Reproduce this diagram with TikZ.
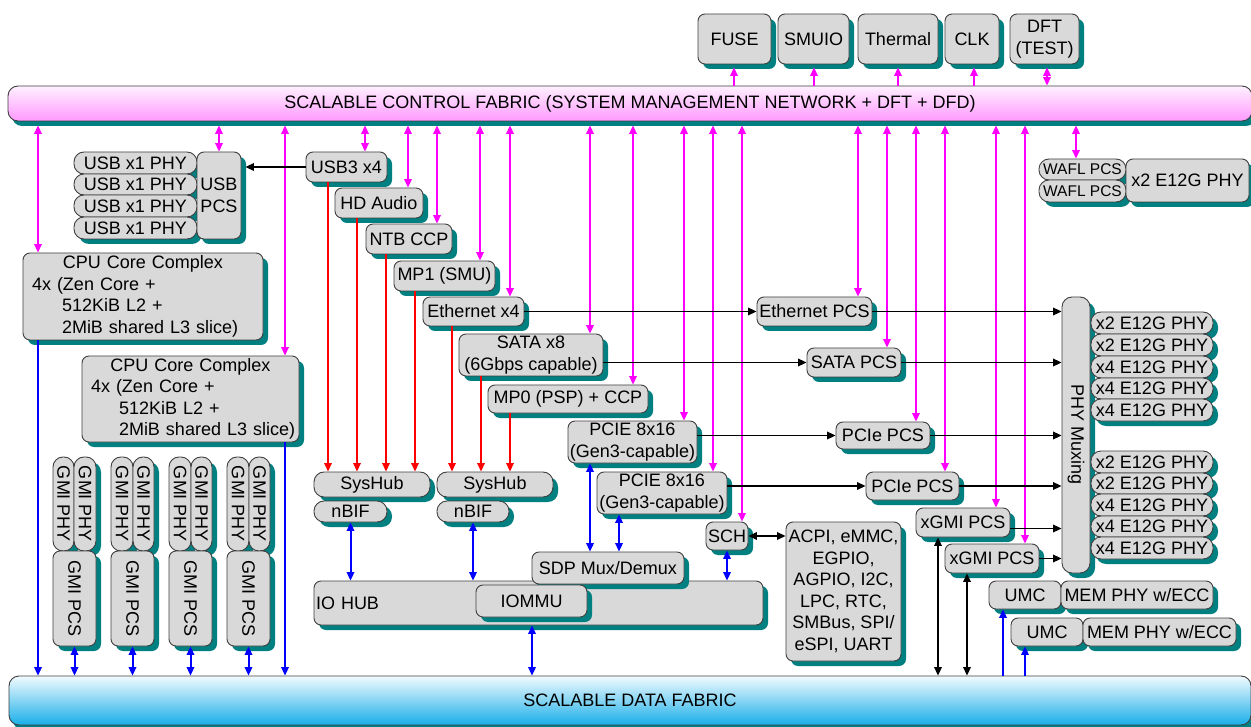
\documentclass[tikz,border=0pt]{standalone}
\usepackage{fontspec}
\setmainfont{Liberation Sans}
\usepackage{graphicx}
\usetikzlibrary{arrows.meta,shadows}
\definecolor{boxfill}{HTML}{D9D9D9}
\definecolor{boxline}{HTML}{404040}
\definecolor{shad}{HTML}{008080}
\definecolor{mag}{HTML}{FF00FF}
\definecolor{scftop}{HTML}{FFF0FF}
\definecolor{scfbot}{HTML}{FF99FF}
\definecolor{sdftop}{HTML}{F2FBFF}
\definecolor{sdfbot}{HTML}{19AEE8}
\newcommand\bx[7][]{%
  \pgfmathsetmacro\bxw{#5-#3}\pgfmathsetmacro\bxh{#6-#4}%
  \node[box,minimum width=\bxw pt,minimum height=\bxh pt,#1] (#2) at ({(#3+#5)/2},{(#4+#6)/2}) {#7};}
\begin{document}
\begin{tikzpicture}[x=1pt,y=-1pt,
  box/.style={draw=boxline, fill=boxfill, line width=0.9pt, rounded corners=7pt,
    inner sep=0pt, align=center, font=\fontsize{18}{21.5}\selectfont,
    general shadow={fill=shad, shadow xshift=5pt, shadow yshift=-5pt}},
  pill/.style={rounded corners=10pt},
  small/.style={font=\fontsize{15.5}{18}\selectfont},
  bar/.style={draw=boxline, line width=0.9pt, rounded corners=10pt, inner sep=0pt,
    font=\fontsize{18}{21.5}\selectfont,
    general shadow={fill=shad, shadow xshift=4pt, shadow yshift=-5pt}},
  >={Triangle[length=8.5pt,width=7.5pt]},
  magl/.style={draw=mag, line width=1.9pt},
  redl/.style={draw=red, line width=1.6pt},
  bluel/.style={draw=blue, line width=2pt},
  blkl/.style={draw=black, line width=1.9pt}]
\fill[white] (0,0) rectangle (1251,727);
\clip (0,0) rectangle (1251,727);

% fabrics
\node[bar, top color=scftop, bottom color=scfbot, minimum width=1244pt, minimum height=35pt]
  (scf) at (630,103.5) {SCALABLE CONTROL FABRIC (SYSTEM MANAGEMENT NETWORK + DFT + DFD)};
\node[bar, top color=sdftop, bottom color=sdfbot, minimum width=1242pt, minimum height=49pt]
  (sdf) at (630,700.5) {SCALABLE DATA FABRIC};

% top blocks
\bx{fuse}{698}{14}{771}{64}{FUSE}
\bx{smuio}{778}{14}{849}{64}{SMUIO}
\bx{thermal}{858}{14}{938}{64}{Thermal}
\bx{clk}{945}{14}{999}{64}{CLK}
\bx{dft}{1010}{14}{1079}{64}{DFT\\(TEST)}

% USB
\bx[pill]{usbp1}{74}{152}{197}{174}{USB x1 PHY}
\bx[pill]{usbp2}{74}{174}{197}{195}{USB x1 PHY}
\bx[pill]{usbp3}{74}{195}{197}{217}{USB x1 PHY}
\bx[pill]{usbp4}{74}{217}{197}{239}{USB x1 PHY}
\bx{usbpcs}{197}{152}{241}{239}{USB\\PCS}

% IO blocks
\bx{usb3}{306}{152}{387}{182}{USB3 x4}
\bx{hda}{335}{188}{423}{218}{HD Audio}
\bx{ntb}{366}{224}{452}{254}{NTB CCP}
\bx{mp1}{394}{261}{495}{291}{MP1 (SMU)}
\bx{eth}{423}{297}{524}{326}{Ethernet x4}
\bx{sata}{459}{334}{603}{376}{SATA x8\\(6Gbps capable)}
\bx{mp0}{488}{385}{648}{413}{MP0 (PSP) + CCP}
\bx{pcie1}{568}{421}{697}{463}{PCIE 8x16\\(Gen3-capable)}
\bx{pcie2}{597}{472}{727}{514}{PCIE 8x16\\(Gen3-capable)}

% PCS blocks
\bx{ethpcs}{757}{297}{872}{326}{Ethernet PCS}
\bx{satapcs}{807}{348}{901}{377}{SATA PCS}
\bx{pcs1}{836}{422}{930}{449}{PCIe PCS}
\bx{pcs2}{866}{472}{959}{500}{PCIe PCS}
\bx{xgmi1}{916}{508}{1010}{537}{xGMI PCS}
\bx{xgmi2}{945}{544}{1039}{573}{xGMI PCS}

% PHY muxing and PHYs
\bx[pill]{phymux}{1062}{297}{1090}{573}{\rotatebox{-90}{PHY Muxing}}
\bx[pill]{ep1}{1091}{312}{1213}{334}{x2 E12G PHY}
\bx[pill]{ep2}{1091}{334}{1213}{356}{x2 E12G PHY}
\bx[pill]{ep3}{1091}{356}{1213}{378}{x4 E12G PHY}
\bx[pill]{ep4}{1091}{378}{1213}{399}{x4 E12G PHY}
\bx[pill]{ep5}{1091}{399}{1213}{421}{x4 E12G PHY}
\bx[pill]{ep6}{1091}{451}{1213}{473}{x2 E12G PHY}
\bx[pill]{ep7}{1091}{473}{1213}{494}{x2 E12G PHY}
\bx[pill]{ep8}{1091}{494}{1213}{516}{x4 E12G PHY}
\bx[pill]{ep9}{1091}{516}{1213}{537}{x4 E12G PHY}
\bx[pill]{ep10}{1091}{537}{1213}{559}{x4 E12G PHY}

% WAFL
\bx[pill,small]{wafl1}{1039}{159}{1126}{180}{WAFL PCS}
\bx[pill,small]{wafl2}{1039}{180}{1126}{202}{WAFL PCS}
\bx{waflphy}{1126}{159}{1249}{202}{x2 E12G PHY}

% memory
\bx{umc1}{989}{581}{1061}{609}{UMC}
\bx{mem1}{1061}{581}{1213}{609}{MEM PHY w/ECC}
\bx{umc2}{1011}{618}{1083}{646}{UMC}
\bx{mem2}{1083}{618}{1236}{646}{MEM PHY w/ECC}

% SCH / ACPI
\bx{sch}{706}{522}{748}{550}{SCH}
\bx{acpi}{786}{522}{901}{661}{ACPI, eMMC,\\EGPIO,\\AGPIO, I2C,\\LPC, RTC,\\SMBus, SPI/\\eSPI, UART}

% IO hub
\bx[align=left,text width=445pt]{iohub}{314}{581}{763}{625}{IO HUB}
\bx{sdp}{532}{552}{684}{584}{SDP Mux/Demux}
\bx{iommu}{476}{585}{587}{617}{IOMMU}
\bx[pill]{sh1}{314}{472}{430}{497}{SysHub}
\bx[pill]{nbif1}{314}{501}{387}{522}{nBIF}
\bx[pill]{sh2}{437}{472}{553}{497}{SysHub}
\bx[pill]{nbif2}{437}{501}{509}{522}{nBIF}

% CPU complexes
\bx[text width=222pt,align=left]{cpu1}{23}{253}{263}{340}{\makebox[\linewidth][c]{CPU Core Complex}\\\mbox{4x (Zen Core +}\\\mbox{\hspace{30pt}512KiB L2 +}\\\mbox{\hspace{30pt}2MiB shared L3 slice)}}
\bx[text width=199pt,align=left]{cpu2}{82}{356}{299}{442}{\makebox[\linewidth][c]{CPU Core Complex}\\\mbox{4x (Zen Core +}\\\mbox{\hspace{28pt}512KiB L2 +}\\\mbox{\hspace{28pt}2MiB shared L3 slice)}}

% GMI
\foreach \n/\a/\b/\c in {1/53/74/96, 2/111/133/154, 3/169/191/212, 4/227/249/270} {
  \bx[pill]{gphya\n}{\a}{457}{\b}{551}{\rotatebox{-90}{GMI PHY}}
  \bx[pill]{gphyb\n}{\b}{457}{\c}{551}{\rotatebox{-90}{GMI PHY}}
  \bx{gpcs\n}{\a}{551}{\c}{646}{\rotatebox{-90}{GMI PCS}}
}

% control fabric connections
\foreach \x/\t in {38/cpu1, 219/usbpcs, 285/cpu2, 365/usb3, 408/hda, 437/ntb, 480/mp1,
  510/eth, 590/sata, 633/mp0, 684/pcie1, 713/pcie2, 742/sch, 858/ethpcs, 887/satapcs,
  916/pcs1, 945/pcs2, 996/xgmi1, 1025/xgmi2, 1076/wafl1}
  \draw[magl,<->] ([yshift=-4pt]scf.south -| \x,0) -- (\t.north -| \x,0);
\foreach \x/\t in {734/fuse, 814/smuio, 898/thermal, 974/clk}
  \draw[magl,->] (scf.north -| \x,0) -- ([yshift=-3pt]\t.south -| \x,0);
\draw[magl,<->] (scf.north -| 1047,0) -- ([yshift=-3pt]dft.south -| 1047,0);

% SysHub connections
\foreach \x/\s/\t in {328/usb3/sh1, 357/hda/sh1, 386/ntb/sh1, 415/mp1/sh1,
  452/eth/sh2, 481/sata/sh2, 510/mp0/sh2}
  \draw[redl,->] (\s.south -| \x,0) -- (\t.north -| \x,0);

% data fabric connections
\draw[bluel,->] (cpu1.south -| 38,0) -- (sdf.north -| 38,0);
\draw[bluel,->] (cpu2.south -| 285,0) -- (sdf.north -| 285,0);
\foreach \n in {1,...,4}
  \draw[bluel,<->] (gpcs\n.south) -- (gpcs\n.south |- sdf.north);
\draw[bluel,<->] (nbif1.south) -- (nbif1.south |- iohub.north);
\draw[bluel,<->] (nbif2.south) -- (nbif2.south |- iohub.north);
\draw[bluel,<->] (pcie1.south -| 590,0) -- (sdp.north -| 590,0);
\draw[bluel,<->] (pcie2.south -| 619,0) -- (sdp.north -| 619,0);
\draw[bluel,<->] (sch.south) -- (sch.south |- iohub.north);
\draw[bluel,<->] (iohub.south -| 532,0) -- (sdf.north -| 532,0);
\draw[bluel,->] (sdf.north -| 1003,0) -- (umc1.south -| 1003,0);
\draw[bluel,->] (sdf.north -| 1025,0) -- (umc2.south -| 1025,0);

% data paths
\draw[blkl,->] (usb3.west) -- ([xshift=4pt]usb3.west -| usbpcs.east);
\draw[blkl,->] (eth.east) -- (eth.east -| ethpcs.west);
\draw[blkl,->] (ethpcs.east) -- (ethpcs.east -| phymux.west);
\draw[blkl,->] (sata.east |- satapcs.west) -- (satapcs.west);
\draw[blkl,->] (satapcs.east) -- (satapcs.east -| phymux.west);
\draw[blkl,->] (pcie1.east |- pcs1.west) -- (pcs1.west);
\draw[blkl,->] (pcs1.east) -- (pcs1.east -| phymux.west);
\draw[blkl,->] (pcie2.east |- pcs2.west) -- (pcs2.west);
\draw[blkl,->] (pcs2.east) -- (pcs2.east -| phymux.west);
\draw[blkl,->] ([yshift=-6pt]xgmi1.east) -- ([yshift=-6pt]xgmi1.east -| phymux.west);
\draw[blkl,->] (xgmi2.east) -- (xgmi2.east -| phymux.west);
\draw[blkl,<->] (sch.east) -- (sch.east -| acpi.west);
\draw[blkl,<->] (xgmi1.south -| 938,0) -- (sdf.north -| 938,0);
\draw[blkl,<->] (xgmi2.south -| 967,0) -- (sdf.north -| 967,0);
\end{tikzpicture}
\end{document}
